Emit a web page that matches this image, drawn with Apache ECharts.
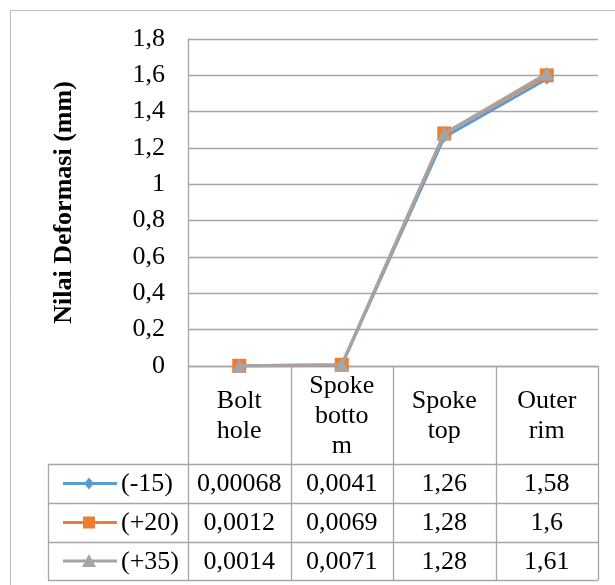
<!DOCTYPE html>
<html><head><meta charset="utf-8">
<script src="https://cdn.jsdelivr.net/npm/echarts@6/dist/echarts.min.js"></script>
<style>html,body{margin:0;padding:0;background:#fff}#c{width:615px;height:585px}</style>
</head><body><div id="c"></div>
<script>
const categories = ['Bolt\nhole', 'Spoke\nbotto\nm', 'Spoke\ntop', 'Outer\nrim'];
const seriesNames = ['(-15)', '(+20)', '(+35)'];
const s1 = [0.00068, 0.0041, 1.26, 1.58];
const s2 = [0.0012, 0.0069, 1.28, 1.6];
const s3 = [0.0014, 0.0071, 1.28, 1.61];
const yTicks = [0, 0.2, 0.4, 0.6, 0.8, 1, 1.2, 1.4, 1.6, 1.8];

const colors = ['#5B9BD5', '#ED7D31', '#A5A5A5'];
const symbols = ['diamond', 'rect', 'triangle'];
const symSizes = [11, 14, 14];
const allData = [s1, s2, s3];
const FONT = 'Liberation Serif';
const FS = 26;

const W = 615, H = 585;
const gL = 188, gR = 598, gT = 39, g0 = 366;
const rowY = [g0, 464, 503, 542, 580];
const legL = 48;
const lineC = '#A6A6A6';

const chart = echarts.init(document.getElementById('c'), null, {renderer: 'canvas'});

function fmt(v) { return String(v).replace('.', ','); }

const series = allData.map((d, i) => ({
  name: seriesNames[i], type: 'line', data: d,
  symbol: symbols[i], symbolSize: symSizes[i],
  itemStyle: {color: colors[i]},
  lineStyle: {color: colors[i], width: 3},
  z: 2 + i
}));

const graphic = [];
graphic.push({type: 'rect', shape: {x: 10.5, y: 10.5, width: 620, height: 600},
  style: {fill: 'none', stroke: '#BFBFBF', lineWidth: 1}, z: 0, silent: true});
const colW = (gR - gL) / categories.length;
const ln = (x1, y1, x2, y2) => graphic.push({type: 'line', shape: {x1, y1, x2, y2},
  style: {stroke: lineC, lineWidth: 1.3}, z: 1, silent: true});
for (let k = 0; k <= categories.length; k++) {
  const x = Math.round(gL + k * colW) + 0.5;
  ln(x, g0, x, rowY[4]);
}
ln(legL + 0.5, rowY[1], legL + 0.5, rowY[4]);
for (let r = 1; r < rowY.length; r++) ln(legL, rowY[r] + 0.5, gR, rowY[r] + 0.5);
const txt = (x, y, s, align) => graphic.push({type: 'text', x, y,
  style: {text: s, fontFamily: FONT, fontSize: FS, fill: '#000', align: align || 'center', verticalAlign: 'middle', lineHeight: 30}, z: 5, silent: true});
categories.forEach((c, k) => txt(gL + (k + 0.5) * colW, (rowY[0] + rowY[1]) / 2 + 1, c));
allData.forEach((d, i) => {
  const cy = (rowY[i + 1] + rowY[i + 2]) / 2 + 1;
  d.forEach((v, k) => txt(gL + (k + 0.5) * colW, cy, fmt(v)));
  const sy = cy - 1, sx = 89;
  graphic.push({type: 'line', shape: {x1: 63, y1: sy, x2: 117, y2: sy},
    style: {stroke: colors[i], lineWidth: 3}, z: 5, silent: true});
  if (symbols[i] === 'diamond') {
    graphic.push({type: 'polygon', shape: {points: [[sx, sy - 6], [sx + 5, sy], [sx, sy + 6], [sx - 5, sy]]},
      style: {fill: colors[i]}, z: 6, silent: true});
  } else if (symbols[i] === 'rect') {
    graphic.push({type: 'rect', shape: {x: sx - 6, y: sy - 6, width: 12, height: 12},
      style: {fill: colors[i]}, z: 6, silent: true});
  } else {
    graphic.push({type: 'polygon', shape: {points: [[sx, sy - 7], [sx + 7, sy + 6], [sx - 7, sy + 6]]},
      style: {fill: colors[i]}, z: 6, silent: true});
  }
  txt(121, cy, seriesNames[i], 'left');
});

chart.setOption({
  animation: false,
  backgroundColor: '#fff',
  grid: {left: gL, right: W - gR, top: gT, bottom: H - g0, containLabel: false},
  xAxis: {
    type: 'category', data: categories, boundaryGap: true,
    axisLine: {show: true, lineStyle: {color: lineC, width: 1.3}},
    axisTick: {show: false}, axisLabel: {show: false}, splitLine: {show: false}
  },
  yAxis: {
    type: 'value', min: 0, max: 1.8, interval: 0.2,
    name: 'Nilai Deformasi (mm)', nameLocation: 'middle', nameRotate: 90, nameGap: 111,
    nameTextStyle: {fontFamily: FONT, fontSize: 26, fontWeight: 'bold', color: '#000'},
    axisLine: {show: true, lineStyle: {color: lineC, width: 1.3}},
    axisTick: {show: false},
    axisLabel: {fontFamily: FONT, fontSize: 26, color: '#000', margin: 23,
      formatter: v => { const t = yTicks.find(x => Math.abs(x - v) < 1e-9); return fmt(t !== undefined ? t : +v.toFixed(1)); }},
    splitLine: {show: true, lineStyle: {color: lineC, width: 1.3}}
  },
  series: series,
  graphic: graphic
});
</script>
</body></html>
